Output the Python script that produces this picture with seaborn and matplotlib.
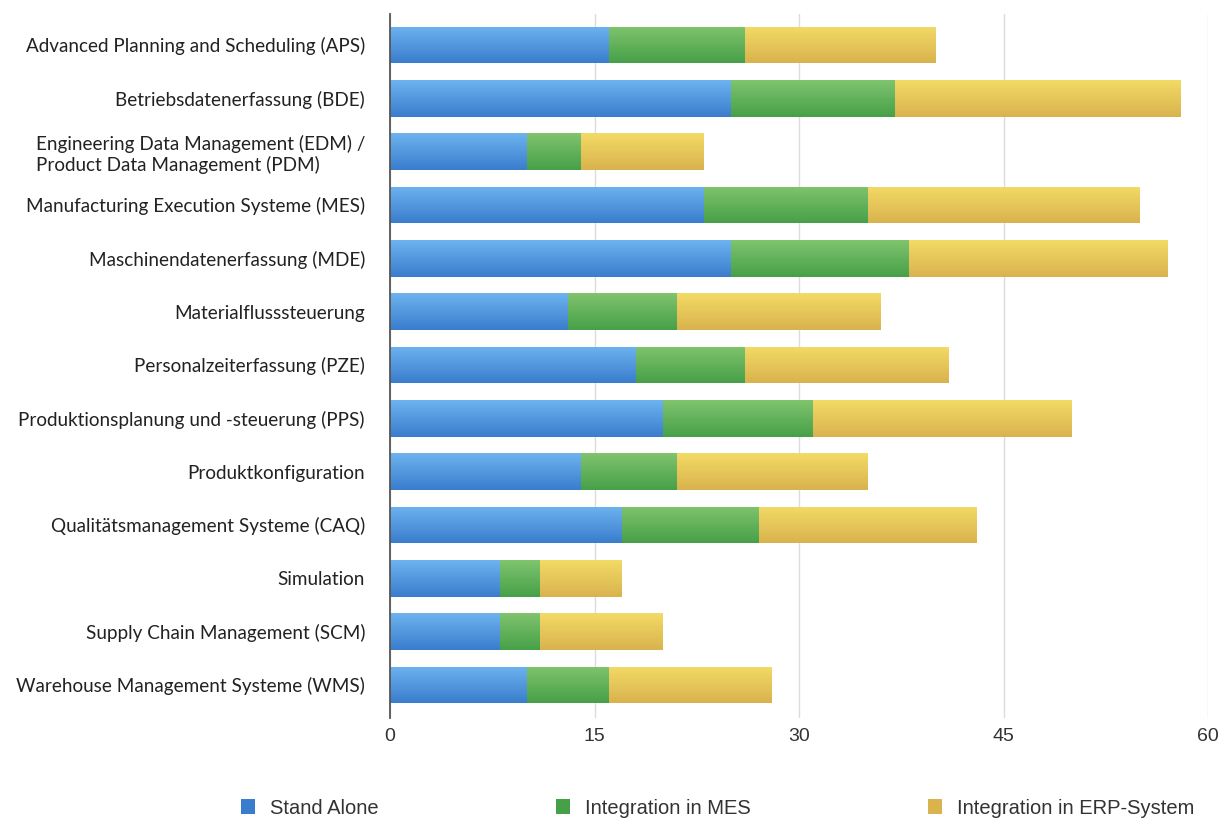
import numpy as np
import pandas as pd
import matplotlib
matplotlib.use("Agg")
import matplotlib.pyplot as plt
import matplotlib.colors as mcolors
from matplotlib.patches import Patch
import seaborn as sns

categories = [
    "Advanced Planning and Scheduling (APS)",
    "Betriebsdatenerfassung (BDE)",
    "Engineering Data Management (EDM) /\nProduct Data Management (PDM)",
    "Manufacturing Execution Systeme (MES)",
    "Maschinendatenerfassung (MDE)",
    "Materialflusssteuerung",
    "Personalzeiterfassung (PZE)",
    "Produktionsplanung und -steuerung (PPS)",
    "Produktkonfiguration",
    "Qualitätsmanagement Systeme (CAQ)",
    "Simulation",
    "Supply Chain Management (SCM)",
    "Warehouse Management Systeme (WMS)",
]
stand_alone = [16, 25, 10, 23, 25, 13, 18, 20, 14, 17, 8, 8, 10]
integration_mes = [10, 12, 4, 12, 13, 8, 8, 11, 7, 10, 3, 3, 6]
integration_erp = [14, 21, 9, 20, 19, 15, 15, 19, 14, 16, 6, 9, 12]
series_names = ["Stand Alone", "Integration in MES", "Integration in ERP-System"]
x_ticks = [0, 15, 30, 45, 60]

# (top, bottom) gradient colours per series
gradients = {
    "Stand Alone": ("#6db3f0", "#3a7dcc"),
    "Integration in MES": ("#80c46e", "#46a048"),
    "Integration in ERP-System": ("#f3da66", "#d9b34e"),
}

df = pd.DataFrame({"cat": categories, "sa": stand_alone,
                   "mes": integration_mes, "erp": integration_erp})
df["c1"] = df["sa"]
df["c2"] = df["sa"] + df["mes"]
df["c3"] = df["c2"] + df["erp"]

sns.set_style("white")
plt.rcParams["font.family"] = ["Lato", "DejaVu Sans"]

fig = plt.figure(figsize=(12.2, 8.21), dpi=100)
ax = fig.add_axes([390 / 1220, 1 - 718 / 821, (1208 - 390) / 1220, (718 - 14) / 821])

layers = [("c3", "Integration in ERP-System"),
          ("c2", "Integration in MES"),
          ("c1", "Stand Alone")]
for col, name in layers:
    n_before = len(ax.patches)
    sns.barplot(data=df, x=col, y="cat", orient="h", color=gradients[name][1],
                width=0.69, ax=ax, linewidth=0, zorder=3)
    for p in ax.patches[n_before:]:
        p.set_gid(name)

# vertical gradient fill inside every bar
for p in list(ax.patches):
    name = p.get_gid()
    top, bot = gradients[name]
    cmap = mcolors.LinearSegmentedColormap.from_list("g", [top, bot])
    x0, y0 = p.get_x(), p.get_y()
    w, h = p.get_width(), p.get_height()
    grad = np.linspace(0, 1, 64).reshape(-1, 1)
    im = ax.imshow(grad, cmap=cmap, aspect="auto",
                   extent=[x0, x0 + w, y0 + h, y0], origin="upper",
                   zorder=p.get_zorder() + 0.1, interpolation="bilinear")
    im.set_clip_path(p)

ax.set_xlim(0, 60)
ax.set_ylim(len(categories) - 1 + 0.62, -0.58)
ax.set_xticks(x_ticks)
ax.set_xticklabels([str(t) for t in x_ticks], fontfamily="Liberation Sans",
                   fontsize=14, color="#333333")
ax.set_xlabel("")
ax.set_ylabel("")
ax.tick_params(axis="x", length=0, pad=7)
ax.tick_params(axis="y", length=0, pad=18, labelsize=13.6, labelcolor="#222222")
for lbl in ax.get_yticklabels():
    lbl.set_horizontalalignment("right")
    lbl.set_multialignment("left")

ax.grid(axis="x", color="#dcdcdc", linewidth=1, zorder=0)
ax.set_axisbelow(True)
for s in ["top", "right", "bottom"]:
    ax.spines[s].set_visible(False)
ax.spines["left"].set_color("#555555")
ax.spines["left"].set_linewidth(1.3)
ax.spines["left"].set_zorder(5)

handles = [Patch(facecolor=gradients[n][1], edgecolor="none") for n in series_names]
leg = fig.legend(handles, series_names, loc="center left", ncol=3,
                 bbox_to_anchor=(241 / 1220, 1 - 808 / 821), frameon=False,
                 prop={"family": "Liberation Sans", "size": 14.5},
                 columnspacing=8.8, handlelength=0.7, handleheight=0.8,
                 handletextpad=0.75, borderpad=0, borderaxespad=0)
for t in leg.get_texts():
    t.set_color("#333333")

fig.savefig("out.png", dpi=100, facecolor="white")
